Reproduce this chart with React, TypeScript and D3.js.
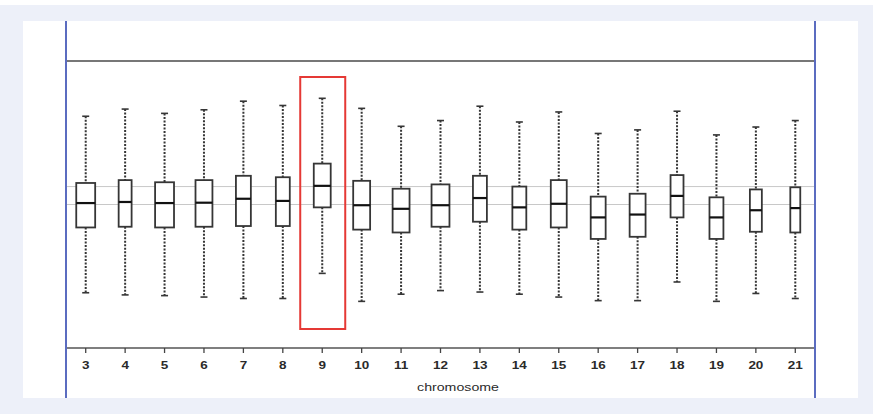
import React from "react";
import * as d3 from "d3";

const chromosomes = ["3","4","5","6","7","8","9","10","11","12","13","14","15","16","17","18","19","20","21"];
const whiskerHigh = [1.23,1.33,1.27,1.32,1.44,1.38,1.48,1.34,1.09,1.17,1.37,1.15,1.29,0.99,1.04,1.30,0.97,1.08,1.17];
const q3 =          [0.30,0.34,0.31,0.34,0.40,0.38,0.57,0.33,0.22,0.28,0.40,0.25,0.34,0.11,0.15,0.41,0.10,0.21,0.24];
const medians =     [0.02,0.035,0.02,0.025,0.08,0.05,0.26,-0.01,-0.06,-0.01,0.09,-0.04,0.01,-0.18,-0.14,0.12,-0.18,-0.08,-0.05];
const q1 =          [-0.32,-0.31,-0.32,-0.31,-0.30,-0.30,-0.04,-0.35,-0.39,-0.31,-0.24,-0.35,-0.32,-0.48,-0.45,-0.18,-0.48,-0.38,-0.39];
const whiskerLow =  [-1.23,-1.26,-1.27,-1.29,-1.31,-1.31,-0.96,-1.35,-1.25,-1.20,-1.22,-1.25,-1.29,-1.34,-1.34,-1.08,-1.35,-1.24,-1.31];
const sampleSizes = [361,169,361,289,225,196,289,289,289,324,196,196,256,225,256,169,196,144,100];
const referenceLines = [0, 0.25];
const highlighted = "9";
const xTitle = "chromosome";

export default function App() {
  const W = 880, H = 420;
  const plotL = 66, plotR = 815, plotT = 61, axisY = 348;
  const x = d3.scaleBand<string>().domain(chromosomes).range([plotL, plotR]).padding(0);
  const y = d3.scaleLinear().domain([-2, 2]).range([axisY, plotT]);
  const bw = x.bandwidth();
  const maxN = d3.max(sampleSizes) as number;
  const widthScale = d3.scaleSqrt().domain([0, maxN]).range([0, bw * 0.48]);
  const dark = "#363636";
  const stretch = 1.35;

  const hx = (x(highlighted) as number);

  return (
    <svg width={W} height={H} style={{ position: "absolute", left: 0, top: 0 }} fontFamily="'Liberation Sans', Arial, sans-serif">
      <rect x={0} y={0} width={W} height={H} fill="#ffffff" />
      <rect x={0} y={5} width={873} height={409} fill="#edf0f9" />
      <rect x={23} y={21} width={835} height={377} fill="#ffffff" />

      {referenceLines.map((v, i) => (
        <line key={i} x1={plotL} x2={plotR} y1={y(v)} y2={y(v)} stroke="#c8c8c8" strokeWidth={1} />
      ))}

      {chromosomes.map((c, i) => {
        const cx = (x(c) as number) + bw / 2;
        const hw = widthScale(sampleSizes[i]) / 2;
        return (
          <g key={c}>
            <line x1={cx} x2={cx} y1={y(whiskerHigh[i])} y2={y(q3[i])} stroke={dark} strokeWidth={2} strokeDasharray="2,1.5" />
            <line x1={cx} x2={cx} y1={y(q1[i])} y2={y(whiskerLow[i])} stroke={dark} strokeWidth={2} strokeDasharray="2,1.5" />
            <line x1={cx - 3.5} x2={cx + 3.5} y1={y(whiskerHigh[i])} y2={y(whiskerHigh[i])} stroke={dark} strokeWidth={1.6} />
            <line x1={cx - 3.5} x2={cx + 3.5} y1={y(whiskerLow[i])} y2={y(whiskerLow[i])} stroke={dark} strokeWidth={1.6} />
            <rect x={cx - hw} y={y(q3[i])} width={hw * 2} height={y(q1[i]) - y(q3[i])} fill="#ffffff" stroke={dark} strokeWidth={1.8} />
            <line x1={cx - hw} x2={cx + hw} y1={y(medians[i])} y2={y(medians[i])} stroke="#111" strokeWidth={2.2} />
          </g>
        );
      })}

      <rect x={hx + bw / 2 - 22} y={77} width={45} height={252} fill="none" stroke="#e53935" strokeWidth={2} />

      <line x1={plotL} x2={plotR} y1={plotT} y2={plotT} stroke="#777" strokeWidth={2} />
      <line x1={plotL} x2={plotR} y1={axisY} y2={axisY} stroke="#555" strokeWidth={1.5} />
      {chromosomes.map((c) => {
        const cx = (x(c) as number) + bw / 2;
        return (
          <g key={"t" + c}>
            <line x1={cx} x2={cx} y1={axisY} y2={axisY + 5} stroke="#444" strokeWidth={1.3} />
            <text transform={`translate(${cx},369) scale(${stretch},1)`} textAnchor="middle" fontSize={10} fill="#2a2a2a" fontWeight="bold">{c}</text>
          </g>
        );
      })}
      <text transform={`translate(458,391) scale(${stretch},1)`} textAnchor="middle" fontSize={10.5} fill="#2a2a2a">{xTitle}</text>

      <line x1={plotL} x2={plotL} y1={21} y2={398} stroke="#5b6cc0" strokeWidth={2} />
      <line x1={plotR} x2={plotR} y1={21} y2={398} stroke="#5b6cc0" strokeWidth={2} />
    </svg>
  );
}
